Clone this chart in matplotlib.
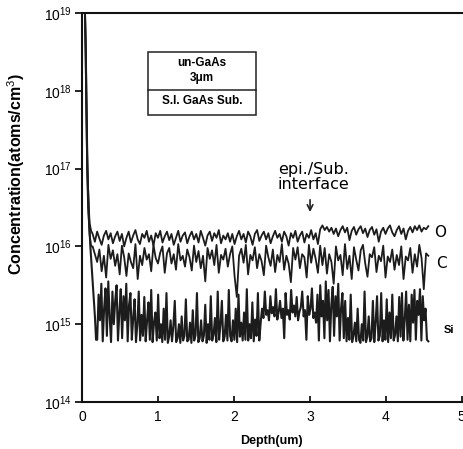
import numpy as np
import matplotlib
matplotlib.use("Agg")
import matplotlib.pyplot as plt
from matplotlib.patches import Rectangle

plt.rcParams['font.family'] = ['Liberation Sans', 'DejaVu Sans']
plt.rcParams['mathtext.fontset'] = 'custom'
plt.rcParams['mathtext.rm'] = 'Liberation Sans'
plt.rcParams['mathtext.default'] = 'rm'

# 表面附近 (depth in um, log10 concentration)
o_surf_d = [0.04, 0.05, 0.06, 0.07, 0.08, 0.09, 0.10, 0.12]
o_surf = [19.0, 18.6, 17.9, 17.2, 16.75, 16.5, 16.3, 16.2]
c_surf_d = [0.04, 0.05, 0.06, 0.07, 0.08, 0.10, 0.12]
c_surf = [19.0, 18.3, 17.5, 16.9, 16.5, 16.15, 16.0]
si_surf_d = [0.04, 0.05, 0.06, 0.07, 0.09, 0.11, 0.13, 0.15, 0.17, 0.185]
si_surf = [18.95, 18.4, 17.6, 17.0, 16.4, 16.0, 15.7, 15.4, 15.1, 14.8]

# 体内 (O, C: 0.14-4.56 um, 150 points; Si: 0.20-4.56 um, 240 points)
o_log = [16.16, 16.06, 16.19, 16.10, 16.02, 16.14, 16.20, 16.09, 16.17, 16.04, 16.13, 16.19, 16.07, 16.16, 16.00,
         16.11, 16.19, 16.05, 16.14, 16.21, 16.09, 16.03, 16.16, 16.11, 16.20, 16.06, 16.14, 16.01, 16.17, 16.11,
         16.20, 16.05, 16.13, 16.19, 16.08, 16.16, 16.02, 16.11, 16.20, 16.06, 16.14, 16.18, 16.04, 16.13, 16.19,
         16.09, 16.16, 16.05, 16.20, 16.11, 16.01, 16.14, 16.19, 16.07, 16.17, 16.11, 16.21, 16.04, 16.14, 16.09,
         16.17, 16.06, 16.16, 16.03, 16.13, 16.20, 16.09, 16.16, 16.05, 16.19, 16.13, 16.02, 16.16, 16.21, 16.07,
         16.14, 16.19, 16.09, 16.17, 16.04, 16.13, 16.20, 16.11, 16.16, 16.06, 16.19, 16.13, 16.01, 16.17, 16.11,
         16.20, 16.06, 16.14, 16.19, 16.05, 16.16, 16.11, 16.21, 16.09, 16.17, 16.03, 16.22, 16.27, 16.21, 16.25,
         16.19, 16.24, 16.16, 16.23, 16.13, 16.21, 16.26, 16.18, 16.24, 16.08, 16.20, 16.25, 16.15, 16.22, 16.26,
         16.17, 16.23, 16.12, 16.21, 16.25, 16.15, 16.22, 16.06, 16.19, 16.24, 16.16, 16.23, 16.27, 16.18, 16.13,
         16.21, 16.26, 16.16, 16.23, 16.09, 16.20, 16.25, 16.18, 16.26, 16.21, 16.27, 16.19, 16.24, 16.22, 16.26]

c_log = [16.00, 15.90, 15.80, 15.96, 15.68, 15.88, 15.60, 16.02, 15.84, 15.95, 15.75, 15.90, 15.64, 16.01, 15.86,
         15.62, 15.91, 15.80, 15.72, 16.03, 15.58, 15.88, 15.76, 15.98, 15.83, 15.90, 15.68, 16.02, 15.85, 15.78,
         15.92, 16.00, 15.66, 15.91, 15.98, 15.78, 15.90, 15.70, 16.03, 15.82, 15.88, 15.74, 15.96, 15.86, 15.69,
         16.01, 15.80, 15.94, 15.72, 15.88, 15.55, 15.98, 15.84, 15.95, 15.76, 16.02, 15.66, 15.89, 15.83, 15.97,
         15.74, 15.90, 16.00, 15.62, 15.35, 15.88, 15.97, 15.79, 16.02, 15.64, 15.89, 15.82, 15.99, 15.72, 15.90,
         15.81, 15.63, 16.01, 15.86, 15.75, 15.96, 15.67, 15.89, 15.80, 16.03, 15.70, 15.88, 15.78, 15.54, 15.98,
         15.83, 15.99, 15.72, 15.90, 15.86, 15.60, 16.02, 15.79, 15.97, 15.84, 15.66, 16.01, 15.76, 15.98, 15.65,
         15.90, 15.80, 15.52, 16.00, 15.82, 15.89, 15.63, 16.03, 15.71, 15.88, 15.58, 15.99, 15.83, 15.69, 15.95,
         16.02, 15.78, 15.61, 15.90, 15.86, 15.99, 15.67, 15.88, 15.81, 16.01, 15.60, 15.87, 15.80, 15.96, 15.70,
         15.89, 15.76, 16.00, 15.58, 15.87, 15.82, 15.98, 15.66, 15.90, 15.74, 16.02, 15.85, 15.45, 15.91, 15.88]

si_log = [14.80, 15.38, 15.05, 15.52, 14.78, 15.20, 15.46, 14.85, 15.55, 15.10, 14.77, 15.42,
          15.00, 15.30, 15.50, 14.79, 15.15, 15.45, 14.82, 15.36, 15.05, 15.52, 14.78, 15.25,
          15.40, 14.80, 15.08, 15.32, 14.77, 15.00, 15.42, 14.79, 15.12, 14.85, 15.35, 14.78,
          15.05, 15.28, 14.80, 15.44, 14.77, 15.02, 15.15, 14.79, 15.38, 14.82, 15.00, 14.77,
          15.20, 14.80, 15.40, 14.76, 14.85, 15.05, 14.78, 14.98, 15.30, 14.77, 14.82, 15.00,
          14.76, 15.10, 14.79, 14.85, 15.32, 14.78, 14.80, 15.02, 14.76, 15.18, 14.79, 14.86,
          15.40, 14.77, 14.82, 15.05, 14.78, 14.85, 15.25, 14.76, 15.00, 14.80, 15.36, 14.79,
          14.86, 15.08, 14.77, 15.42, 14.80, 15.00, 15.30, 14.78, 14.84, 15.12, 14.79, 15.44,
          14.85, 14.78, 15.05, 14.80, 15.20, 14.77, 15.38, 14.84, 15.02, 14.79, 15.15, 14.80,
          15.45, 14.79, 15.00, 14.82, 15.28, 14.78, 15.06, 14.85, 15.40, 14.79, 15.02, 15.20,
          15.08, 15.42, 15.12, 15.18, 15.05, 15.36, 15.14, 15.22, 15.10, 15.45, 15.06, 15.16,
          15.30, 15.08, 15.20, 14.82, 15.40, 15.12, 15.18, 15.06, 15.44, 15.15, 15.24, 15.10,
          15.35, 15.05, 15.16, 15.22, 15.42, 15.10, 15.18, 14.80, 15.36, 15.12, 15.20, 15.46,
          15.08, 15.15, 15.02, 15.38, 14.79, 15.50, 15.10, 15.30, 14.82, 15.55, 15.05, 15.44,
          14.78, 15.25, 15.48, 14.85, 15.36, 15.10, 15.52, 14.79, 15.20, 15.40, 14.82, 15.30,
          14.78, 15.08, 14.80, 15.38, 14.77, 14.85, 15.02, 14.78, 15.20, 14.80, 14.76, 15.00,
          14.79, 15.42, 14.77, 14.84, 15.10, 14.78, 14.82, 15.30, 14.77, 15.02, 15.36, 14.79,
          14.85, 15.40, 14.78, 15.05, 14.80, 15.32, 14.77, 15.15, 14.82, 15.38, 14.79, 14.86,
          15.10, 14.78, 15.35, 14.84, 15.40, 14.79, 15.06, 15.42, 14.80, 15.25, 14.78, 15.38,
          15.02, 15.44, 14.80, 15.30, 15.12, 15.45, 14.79, 15.36, 15.05, 15.20, 14.80, 14.78]

oc_depth = np.linspace(0.14, 4.56, len(o_log))
si_depth = np.linspace(0.20, 4.56, len(si_log))

xticks = [0, 1, 2, 3, 4, 5]
yticks = [1e14, 1e15, 1e16, 1e17, 1e18, 1e19]
ytick_labels = ['$10^{14}$', '$10^{15}$', '$10^{16}$', '$10^{17}$', '$10^{18}$', '$10^{19}$']

fig = plt.figure(figsize=(4.64, 4.49), dpi=100)
ax = fig.add_axes([82 / 464, 1 - 402 / 449, 382 / 464, 389 / 449])

line_col = '#1c1c1c'
ax.plot(np.r_[o_surf_d, oc_depth], 10 ** np.r_[o_surf, o_log], color=line_col, lw=1.3)
ax.plot(np.r_[c_surf_d, oc_depth], 10 ** np.r_[c_surf, c_log], color=line_col, lw=1.3)
ax.plot(np.r_[si_surf_d, si_depth], 10 ** np.r_[si_surf, si_log], color=line_col, lw=1.5)

ax.set_yscale('log')
ax.set_xlim(0, 5.03)
ax.set_ylim(1e14, 1e19)
ax.set_xticks(xticks)
ax.set_yticks(yticks)
ax.set_yticklabels(ytick_labels)
ax.minorticks_off()
ax.tick_params(axis='x', direction='in', length=4, width=1.2, labelsize=10, pad=6)
ax.tick_params(axis='y', direction='out', length=5, width=1.2, labelsize=10, pad=2)
ax.spines['right'].set_visible(False)
for s in ['left', 'top', 'bottom']:
    ax.spines[s].set_linewidth(1.5)
    ax.spines[s].set_color('#111111')

ax.set_ylabel('Concentration(atoms/cm$^3$)', fontsize=11.5, fontweight='bold')
ax.yaxis.set_label_coords(-0.145, 0.585)
ax.set_xlabel('Depth(um)', fontsize=9, fontweight='bold')
ax.xaxis.set_label_coords(0.497, -0.085)

# 结构示意框
ax.add_patch(Rectangle((0.173, 0.738), 0.282, 0.162, transform=ax.transAxes,
                       fill=False, lw=1.1, color='#222222'))
ax.plot([0.173, 0.455], [0.802, 0.802], transform=ax.transAxes, color='#222222', lw=1.1)
ax.text(0.314, 0.871, 'un-GaAs', transform=ax.transAxes, ha='center', va='center',
        fontsize=8.5, fontweight='bold')
ax.text(0.314, 0.833, '3μm', transform=ax.transAxes, ha='center', va='center',
        fontsize=8.5, fontweight='bold')
ax.text(0.314, 0.774, 'S.I. GaAs Sub.', transform=ax.transAxes, ha='center', va='center',
        fontsize=8.5, fontweight='bold')

# 界面标注
ax.text(0.605, 0.578, 'epi./Sub.\ninterface', transform=ax.transAxes, ha='center',
        va='center', fontsize=11.5, family='DejaVu Sans', linespacing=1.0)
ax.annotate('', xy=(0.597, 0.481), xytext=(0.597, 0.527), xycoords='axes fraction',
            arrowprops=dict(arrowstyle='->', color='#222222', lw=1.2))

ax.text(0.937, 0.437, 'O', transform=ax.transAxes, ha='center', va='center',
        fontsize=11, family='DejaVu Sans')
ax.text(0.940, 0.357, 'C', transform=ax.transAxes, ha='center', va='center',
        fontsize=11, family='DejaVu Sans')
ax.text(0.962, 0.185, 'Si', transform=ax.transAxes, ha='center', va='center',
        fontsize=8, fontweight='bold')

fig.savefig('out.png', dpi=100)
